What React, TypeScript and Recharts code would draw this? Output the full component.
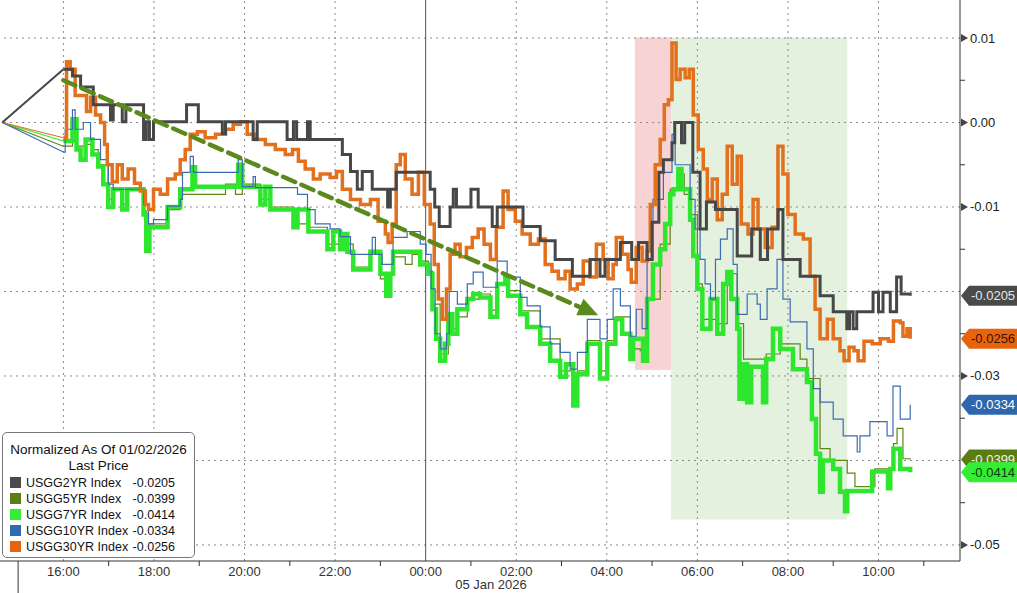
import React from 'react';
import { LineChart, Line, XAxis, YAxis, ReferenceLine, ReferenceArea, ReferenceDot } from 'recharts';

// [hour since 04 Jan 00:00, change since 01/02 close]
const usgg2yr: [number, number][] = [
  [14.65, 0], [16.0, 0.0063], [16.2, 0.0055], [16.38, 0.0042], [16.66, 0.0021], [17.04, 0.0003],
  [17.1, 0.0021], [17.3, 0.0001], [17.38, 0.0021], [17.77, -0.002], [17.83, 0.0001], [17.9, -0.002],
  [17.99, 0.0001], [18.72, 0.0021], [18.98, 0.0001], [19.51, -0.0013], [19.58, 0.0001], [20.19, -0.002],
  [20.28, 0.0001], [20.94, -0.002], [21.08, 0.0001], [21.15, -0.002], [21.39, 0.0001], [21.45, -0.002],
  [22.16, -0.0038], [22.34, -0.0058], [22.49, -0.0079], [22.6, -0.0058], [22.82, -0.0079], [23.16, -0.01],
  [23.22, -0.0079], [23.35, -0.0059], [24.1, -0.0079], [24.2, -0.01], [24.3, -0.0123], [24.54, -0.01],
  [24.61, -0.0079], [24.68, -0.01], [25.0, -0.0079], [25.16, -0.01], [25.47, -0.0123], [25.58, -0.01],
  [26.15, -0.0123], [26.53, -0.014], [26.86, -0.0162], [27.24, -0.0182], [27.63, -0.0162], [27.85, -0.0182],
  [27.96, -0.0162], [28.3, -0.0142], [28.55, -0.0162], [28.7, -0.0142], [28.89, -0.0162], [29.0, -0.0118],
  [29.15, -0.0059], [29.25, -0.0044], [29.44, -0.0024], [29.5, 0.0], [29.65, -0.0024], [29.72, 0.0],
  [29.9, -0.0059], [30.06, -0.0126], [30.2, -0.0094], [30.4, -0.0103], [30.88, -0.0158], [31.2, -0.0126],
  [31.39, -0.0162], [31.55, -0.0126], [31.78, -0.0103], [31.89, -0.0162], [32.27, -0.0182], [32.71, -0.0205],
  [33.0, -0.0224], [33.3, -0.0244], [33.36, -0.0224], [33.44, -0.0244], [33.52, -0.0224], [33.88, -0.0201],
  [34.0, -0.0224], [34.1, -0.0201], [34.26, -0.0224], [34.4, -0.0183], [34.5, -0.0203], [34.7, -0.0205],
];

const usgg5yr: [number, number][] = [
  [14.65, 0], [16.0, -0.0028], [16.2, -0.0002], [16.29, -0.0028], [16.49, -0.0026], [16.64, -0.0032],
  [16.77, -0.005], [16.99, -0.0091], [17.1, -0.0077], [17.3, -0.0097], [17.41, -0.0077], [17.77, -0.0105],
  [17.83, -0.0138], [17.9, -0.012], [18.3, -0.0103], [18.58, -0.0085], [19.58, -0.0073], [19.8, -0.0085],
  [19.95, -0.0073], [20.35, -0.0091], [20.57, -0.01], [21.08, -0.012], [21.41, -0.0124], [21.83, -0.0144],
  [22.4, -0.0171], [22.78, -0.0156], [23.0, -0.0185], [23.22, -0.0179], [23.28, -0.0159], [23.55, -0.0168],
  [23.7, -0.0156], [23.88, -0.0164], [24.06, -0.0176], [24.15, -0.0215], [24.32, -0.0274], [24.5, -0.0233],
  [24.59, -0.0244], [24.7, -0.023], [24.92, -0.0209], [25.2, -0.0203], [25.43, -0.0222], [25.58, -0.0191],
  [25.82, -0.0199], [26.09, -0.0223], [26.53, -0.0256], [26.97, -0.0294], [27.26, -0.0321], [27.35, -0.0294],
  [27.57, -0.0258], [27.85, -0.0294], [28.01, -0.0258], [28.19, -0.023], [28.52, -0.0268], [28.74, -0.027],
  [28.89, -0.0209], [29.18, -0.0144], [29.4, -0.0079], [29.58, -0.0061], [29.71, -0.0085], [29.84, -0.0109],
  [30.0, -0.0191], [30.11, -0.0233], [30.44, -0.0238], [30.66, -0.0179], [30.88, -0.0238], [31.02, -0.028],
  [31.52, -0.0274], [31.83, -0.0262], [32.27, -0.028], [32.42, -0.0303], [32.71, -0.0386], [32.93, -0.04],
  [33.31, -0.0415], [33.48, -0.0431], [33.92, -0.041], [34.33, -0.038], [34.41, -0.0362], [34.54, -0.0398],
  [34.7, -0.0399],
];

const usgg7yr: [number, number][] = [
  [14.65, 0], [16.0, -0.0022], [16.2, 0.0004], [16.29, -0.0032], [16.38, -0.0044], [16.49, -0.002],
  [16.64, -0.0038], [16.77, -0.0052], [16.88, -0.0073], [16.99, -0.01], [17.1, -0.0079], [17.3, -0.0103],
  [17.41, -0.0079], [17.77, -0.0109], [17.83, -0.0152], [17.9, -0.0124], [18.3, -0.01], [18.58, -0.0079],
  [18.85, -0.0053], [18.91, -0.0076], [19.86, -0.005], [19.95, -0.0076], [20.35, -0.0097], [20.46, -0.0076],
  [20.57, -0.0103], [21.08, -0.0124], [21.17, -0.0103], [21.41, -0.0129], [21.83, -0.015], [21.96, -0.0129],
  [22.11, -0.015], [22.2, -0.0132], [22.27, -0.0153], [22.4, -0.0174], [22.78, -0.0153], [23.0, -0.0179],
  [23.13, -0.0205], [23.22, -0.0179], [23.28, -0.0153], [23.88, -0.0168], [24.06, -0.0179], [24.15, -0.0221],
  [24.23, -0.0256], [24.32, -0.0282], [24.43, -0.0262], [24.5, -0.0227], [24.59, -0.025], [24.7, -0.0221],
  [24.92, -0.0209], [25.05, -0.0203], [25.2, -0.0207], [25.43, -0.023], [25.58, -0.0191], [25.76, -0.0182],
  [25.82, -0.0205], [26.09, -0.0227], [26.24, -0.0242], [26.53, -0.0262], [26.75, -0.0282], [26.97, -0.0301],
  [27.1, -0.0286], [27.26, -0.0335], [27.35, -0.0298], [27.57, -0.0262], [27.85, -0.0303], [28.01, -0.0262],
  [28.19, -0.0233], [28.34, -0.025], [28.52, -0.028], [28.58, -0.0256], [28.8, -0.0282], [28.89, -0.0209],
  [29.02, -0.0168], [29.18, -0.015], [29.29, -0.012], [29.4, -0.0085], [29.47, -0.0079], [29.58, -0.0055],
  [29.65, -0.0079], [29.84, -0.0115], [29.91, -0.0158], [30.0, -0.0197], [30.11, -0.0244], [30.29, -0.0209],
  [30.44, -0.025], [30.57, -0.0191], [30.66, -0.0177], [30.75, -0.0209], [30.88, -0.0244], [30.93, -0.0327],
  [31.02, -0.0286], [31.1, -0.0331], [31.19, -0.0289], [31.45, -0.0331], [31.52, -0.028], [31.67, -0.0244],
  [31.83, -0.0268], [32.11, -0.0292], [32.42, -0.0307], [32.53, -0.0351], [32.62, -0.0392], [32.71, -0.0437],
  [32.77, -0.04], [33.0, -0.041], [33.15, -0.0437], [33.26, -0.046], [33.31, -0.0436], [33.86, -0.0413],
  [34.21, -0.0433], [34.26, -0.041], [34.33, -0.0386], [34.48, -0.041], [34.7, -0.0414],
];

const usgg10yr: [number, number][] = [
  [14.65, 0], [16.0, -0.0035], [16.04, -0.0008], [16.2, 0.0015], [16.26, -0.0008], [16.44, 0.0],
  [16.6, -0.002], [16.82, -0.0044], [16.99, -0.0073], [17.1, -0.0079], [17.77, -0.0097], [17.88, -0.012],
  [17.99, -0.0115], [18.3, -0.0099], [18.58, -0.0091], [18.63, -0.0059], [18.8, -0.004], [18.87, -0.0059],
  [19.86, -0.0044], [19.95, -0.0076], [20.19, -0.0064], [20.24, -0.0077], [21.17, -0.0085], [21.39, -0.0103],
  [21.56, -0.012], [21.89, -0.0126], [22.11, -0.0135], [22.34, -0.0156], [22.82, -0.0136], [22.89, -0.0156],
  [23.04, -0.0168], [23.28, -0.0136], [23.59, -0.0129], [23.88, -0.0144], [24.01, -0.0156], [24.12, -0.0197],
  [24.21, -0.025], [24.32, -0.0268], [24.46, -0.025], [24.52, -0.02], [24.7, -0.0215], [24.92, -0.0191],
  [25.05, -0.0177], [25.27, -0.0195], [25.58, -0.0164], [25.8, -0.0183], [26.09, -0.0207], [26.24, -0.0217],
  [26.53, -0.0242], [26.75, -0.0262], [26.97, -0.0272], [27.19, -0.0292], [27.35, -0.0272], [27.57, -0.0233],
  [27.85, -0.0256], [28.01, -0.0233], [28.14, -0.0197], [28.3, -0.0217], [28.52, -0.0253], [28.65, -0.0221],
  [28.78, -0.0244], [28.89, -0.0162], [29.02, -0.0091], [29.25, -0.0059], [29.44, -0.0014], [29.51, -0.005],
  [29.84, -0.0091], [29.95, -0.0126], [30.06, -0.0162], [30.17, -0.0191], [30.29, -0.0209], [30.4, -0.0162],
  [30.51, -0.0138], [30.66, -0.0126], [30.79, -0.0168], [30.88, -0.0227], [31.1, -0.0203], [31.32, -0.0215],
  [31.39, -0.0233], [31.54, -0.0197], [31.76, -0.0162], [31.89, -0.0209], [32.05, -0.0236], [32.42, -0.0268],
  [32.56, -0.0315], [32.71, -0.0331], [33.0, -0.0351], [33.22, -0.0371], [33.53, -0.039], [33.59, -0.0371],
  [33.81, -0.0354], [34.19, -0.0371], [34.32, -0.0312], [34.48, -0.0351], [34.7, -0.0334],
];

const usgg30yr: [number, number][] = [
  [14.65, 0], [16.0, -0.0018], [16.07, 0.0072], [16.15, 0.0063], [16.26, 0.0032], [16.51, 0.0013],
  [16.6, 0.003], [16.71, 0.0009], [16.82, 0.0], [16.91, -0.0026], [16.97, -0.005], [17.08, -0.007],
  [17.19, -0.005], [17.3, -0.0067], [17.43, -0.0055], [17.57, -0.0072], [17.7, -0.0081], [17.81, -0.0097],
  [17.88, -0.0103], [17.99, -0.0079], [18.14, -0.0085], [18.3, -0.0067], [18.47, -0.0061], [18.58, -0.0044],
  [18.69, -0.0032], [18.8, -0.0014], [18.96, -0.0011], [19.13, -0.0018], [19.36, -0.0014], [19.58, -0.0008],
  [19.75, -0.0002], [19.91, 0.0001], [20.06, -0.0014], [20.24, -0.002], [20.46, -0.0026], [20.68, -0.0032],
  [20.9, -0.0038], [21.06, -0.0032], [21.19, -0.0046], [21.34, -0.0055], [21.52, -0.0067], [21.67, -0.0061],
  [21.89, -0.0065], [22.03, -0.0058], [22.16, -0.0079], [22.34, -0.0091], [22.56, -0.0097], [22.78, -0.0091],
  [22.95, -0.0117], [23.11, -0.0132], [23.17, -0.0142], [23.26, -0.012], [23.35, -0.005], [23.44, -0.0038],
  [23.55, -0.0067], [23.7, -0.0085], [23.84, -0.0059], [23.97, -0.0097], [24.1, -0.012], [24.19, -0.0168],
  [24.28, -0.0209], [24.37, -0.0233], [24.46, -0.0197], [24.54, -0.0156], [24.65, -0.0144], [24.76, -0.0159],
  [24.9, -0.0148], [25.03, -0.0136], [25.16, -0.0126], [25.29, -0.0144], [25.43, -0.0162], [25.56, -0.0124],
  [25.71, -0.0081], [25.82, -0.0103], [25.98, -0.0117], [26.13, -0.0132], [26.31, -0.0144], [26.49, -0.0138],
  [26.64, -0.0168], [26.79, -0.0176], [26.93, -0.0185], [27.08, -0.0176], [27.19, -0.0197], [27.35, -0.0191],
  [27.48, -0.0164], [27.63, -0.0183], [27.77, -0.0144], [27.92, -0.0162], [28.03, -0.0185], [28.14, -0.0168],
  [28.21, -0.0136], [28.34, -0.0156], [28.47, -0.0174], [28.54, -0.0189], [28.65, -0.0148], [28.78, -0.0164],
  [28.89, -0.0152], [28.96, -0.0097], [29.07, -0.005], [29.18, -0.002], [29.27, 0.0021], [29.36, 0.0027],
  [29.44, 0.0094], [29.53, 0.0051], [29.62, 0.0063], [29.73, 0.0053], [29.82, 0.0063], [29.91, 0.0009],
  [30.02, -0.0032], [30.13, -0.0055], [30.22, -0.0091], [30.33, -0.0067], [30.44, -0.0115], [30.55, -0.0085],
  [30.66, -0.0028], [30.77, -0.0073], [30.88, -0.004], [30.97, -0.012], [31.12, -0.0132], [31.23, -0.0091],
  [31.34, -0.0126], [31.5, -0.0148], [31.65, -0.0124], [31.78, -0.0028], [31.89, -0.0061], [32.0, -0.0109],
  [32.16, -0.0132], [32.34, -0.0138], [32.49, -0.0182], [32.6, -0.0221], [32.71, -0.0256], [32.87, -0.0233],
  [33.0, -0.0256], [33.15, -0.027], [33.24, -0.0282], [33.35, -0.0266], [33.46, -0.027], [33.55, -0.0282],
  [33.68, -0.0259], [33.86, -0.0262], [34.04, -0.0256], [34.22, -0.0259], [34.33, -0.0235], [34.48, -0.0237],
  [34.54, -0.0253], [34.63, -0.0244], [34.7, -0.0256],
];

const seriesNames = ['USGG2YR Index', 'USGG5YR Index', 'USGG7YR Index', 'USGG10YR Index', 'USGG30YR Index'];
const lastPrices = [-0.0205, -0.0399, -0.0414, -0.0334, -0.0256];

const hourTicks = [15, 16, 17, 18, 19, 20, 21, 22, 23, 24, 25, 26, 27, 28, 29, 30, 31, 32, 33, 34, 35];
const hourLabels: Record<number, string> = {
  16: '16:00', 18: '18:00', 20: '20:00', 22: '22:00', 24: '00:00',
  26: '02:00', 28: '04:00', 30: '06:00', 32: '08:00', 34: '10:00',
};
const gridHours = [16, 18, 20, 22, 26, 28, 30, 32, 34];
const yTicks = [0.01, 0.005, 0, -0.005, -0.01, -0.015, -0.02, -0.025, -0.03, -0.035, -0.04, -0.045, -0.05];
const yLabels = [0.01, 0, -0.01, -0.02, -0.03, -0.04, -0.05];

// shaded windows and the trend arrow, in data units
const redWindow = { x1: 28.62, x2: 29.42, y1: -0.0293, y2: 0.0101 };
const greenWindow = { x1: 29.42, x2: 33.31, y1: -0.047, y2: 0.0101 };
const trendArrow = [{ x: 16.0, y: 0.005 }, { x: 27.81, y: -0.0228 }];

const styles = [
  { color: '#474747', width: 3, swatch: '#4a4a4a', badge: '#4a4a4a', text: '#e6e6e6' },
  { color: '#5c8714', width: 1.2, swatch: '#5b7f12', badge: '#5a7d12', text: '#eef3e0' },
  { color: '#2fe62f', width: 4.5, swatch: '#33ee33', badge: '#33ee33', text: '#0b3a0b' },
  { color: '#3b6cb0', width: 1.2, swatch: '#2e6ab4', badge: '#2e67ad', text: '#ffffff' },
  { color: '#e2701c', width: 3.5, swatch: '#e8640c', badge: '#e8640c', text: '#3a1400' },
];
const allSeries = [usgg2yr, usgg5yr, usgg7yr, usgg10yr, usgg30yr];
const drawOrder = [1, 2, 3, 4, 0];

const toRows = (pts: [number, number][]) => pts.map(([t, v]) => ({ t, v }));
const fmt = (v: number) => (Math.abs(v) < 1e-9 ? '0.00' : v.toFixed(2));
const FONT = "'Liberation Sans', Arial, sans-serif";

const XTick = (props: any) => {
  const { x, y, payload } = props;
  const h = payload.value;
  if (hourLabels[h]) {
    return (
      <text x={x} y={y + 15} textAnchor="middle" fontSize={13} fontFamily={FONT} fill="#333">
        {hourLabels[h]}
      </text>
    );
  }
  if (h === 15) return <line x1={x} x2={x} y1={y} y2={y + 33} stroke="#333" />;
  return <line x1={x} x2={x} y1={y} y2={y + 5} stroke="#333" />;
};

// a tick label sitting under a last-price badge is hidden by it
const underBadge = (v: number) => lastPrices.some((p) => Math.abs(p - v) < 0.0012);

const YTick = (props: any) => {
  const { x, y, payload } = props;
  const v = payload.value;
  const major = yLabels.some((l) => Math.abs(l - v) < 1e-9);
  if (!major) return <line x1={x} x2={x + 5} y1={y} y2={y} stroke="#333" />;
  if (underBadge(v)) return <g />;
  return (
    <g>
      <polygon points={`${x + 1},${y - 4} ${x + 8},${y} ${x + 1},${y + 4}`} fill="#444" />
      <text x={x + 10} y={y + 4.5} fontSize={13} fontFamily={FONT} fill="#222">
        {fmt(v)}
      </text>
    </g>
  );
};

const DashedArrow = (props: any) => {
  const { x1, y1, x2, y2 } = props;
  const ang = Math.atan2(y2 - y1, x2 - x1);
  const len = 20;
  const half = 9;
  const bx = x2 - len * Math.cos(ang);
  const by = y2 - len * Math.sin(ang);
  const px = -Math.sin(ang);
  const py = Math.cos(ang);
  return (
    <g>
      <line x1={x1} y1={y1} x2={bx} y2={by} stroke="#5b8a1c" strokeWidth={4.5} strokeDasharray="13 7" strokeLinecap="round" />
      <polygon points={`${x2},${y2} ${bx + px * half},${by + py * half} ${bx - px * half},${by - py * half}`} fill="#5b8a1c" />
    </g>
  );
};

const makeBadge = (label: string, fill: string, color: string) => (props: any) => {
  const { cx, cy } = props;
  const h = 10;
  return (
    <g>
      <polygon
        points={`${cx + 1},${cy} ${cx + 9},${cy - h} ${cx + 57},${cy - h} ${cx + 57},${cy + h} ${cx + 9},${cy + h}`}
        fill={fill}
      />
      <text x={cx + 11} y={cy + 4.5} fontSize={13} fontFamily={FONT} fill={color}>
        {label}
      </text>
    </g>
  );
};

const Legend = () => (
  <div
    style={{
      position: 'absolute', left: 2, top: 432, width: 191, height: 124, background: '#fff',
      border: '1px solid #777', borderRadius: 5, fontFamily: FONT, color: '#111',
    }}
  >
    <div style={{ textAlign: 'center', fontSize: 13.5, marginTop: 9, lineHeight: '16px' }}>Normalized As Of 01/02/2026</div>
    <div style={{ textAlign: 'center', fontSize: 13.5, lineHeight: '15px' }}>Last Price</div>
    <div style={{ marginTop: 2 }}>
      {seriesNames.map((name, i) => (
        <div key={name} style={{ position: 'relative', height: 16, fontSize: 12.5, lineHeight: '16px' }}>
          <span style={{ position: 'absolute', left: 7, top: 2, width: 11, height: 11, background: styles[i].swatch }} />
          <span style={{ position: 'absolute', left: 23 }}>{name}</span>
          <span style={{ position: 'absolute', right: 19 }}>{lastPrices[i].toFixed(4)}</span>
        </div>
      ))}
    </div>
  </div>
);

export default function App() {
  return (
    <div style={{ position: 'absolute', left: 0, top: 0, width: 1017, height: 593, background: '#fff', overflow: 'hidden' }}>
      <LineChart width={1017} height={593} margin={{ top: 0, right: 0, bottom: 0, left: 0 }}>
        <XAxis
          dataKey="t"
          type="number"
          domain={[14.6, 35.8]}
          ticks={hourTicks}
          interval={0}
          tick={XTick}
          tickLine={false}
          tickSize={0}
          tickMargin={0}
          axisLine={{ stroke: '#333' }}
          height={32}
          allowDataOverflow
        />
        <YAxis
          orientation="right"
          type="number"
          domain={[-0.0519, 0.0145]}
          ticks={yTicks}
          interval={0}
          tick={YTick}
          tickLine={false}
          tickSize={0}
          tickMargin={0}
          axisLine={{ stroke: '#333' }}
          width={57}
          allowDataOverflow
        />
        <ReferenceArea {...redWindow} fill="#f7d3d3" fillOpacity={1} stroke="none" ifOverflow="visible" />
        <ReferenceArea {...greenWindow} fill="#e4f1df" fillOpacity={1} stroke="none" ifOverflow="visible" />
        {yLabels.map((v) => (
          <ReferenceLine key={`gy${v}`} y={v} stroke="#8a8a8a" strokeDasharray="2 4" />
        ))}
        {gridHours.map((h) => (
          <ReferenceLine key={`gx${h}`} x={h} stroke="#8a8a8a" strokeDasharray="2 4" />
        ))}
        <ReferenceLine x={24} stroke="#555" />
        {/* straight joins from the 01/02 close across the weekend gap */}
        {drawOrder.map((i) => (
          <ReferenceLine
            key={`c${i}`}
            segment={allSeries[i].slice(0, 2).map(([x, y]) => ({ x, y }))}
            stroke={styles[i].color}
            strokeWidth={i === 0 ? 2 : 1.1}
          />
        ))}
        {drawOrder.map((i) => (
          <Line
            key={`s${i}`}
            data={toRows(allSeries[i].slice(1))}
            dataKey="v"
            type="stepAfter"
            stroke={styles[i].color}
            strokeWidth={styles[i].width}
            dot={false}
            activeDot={false}
            isAnimationActive={false}
          />
        ))}
        <ReferenceLine segment={trendArrow} shape={DashedArrow} />
        {[0, 4, 3, 1, 2].map((i) => (
          <ReferenceDot
            key={`b${i}`}
            x={35.8}
            y={lastPrices[i]}
            r={0}
            ifOverflow="visible"
            shape={makeBadge(lastPrices[i].toFixed(4), styles[i].badge, styles[i].text)}
          />
        ))}
      </LineChart>
      <div
        style={{
          position: 'absolute', left: 441, top: 577, width: 100, textAlign: 'center',
          fontSize: 13, fontFamily: FONT, color: '#333',
        }}
      >
        05 Jan 2026
      </div>
      <Legend />
    </div>
  );
}
